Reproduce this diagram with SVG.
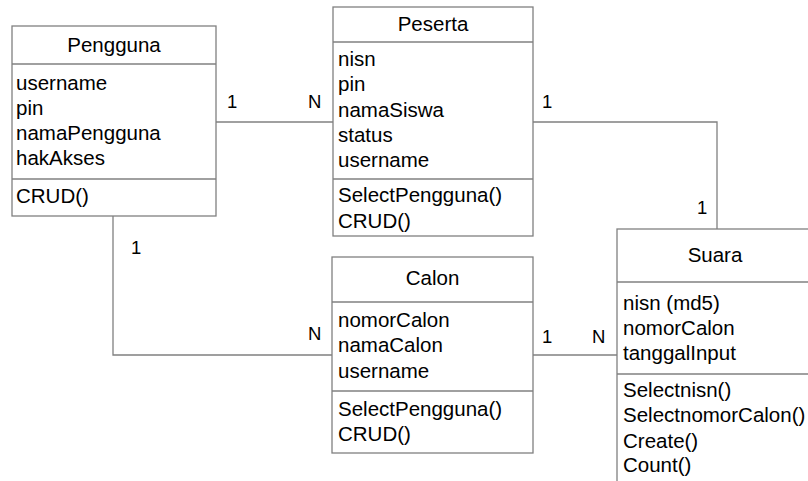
<svg xmlns="http://www.w3.org/2000/svg" width="808" height="481" viewBox="0 0 808 481">
<style>
.box{fill:#fff;stroke:#808080;stroke-width:1.3}
.sep{stroke:#808080;stroke-width:1.3}
.t{font-family:"Liberation Sans",Arial,sans-serif;font-size:20.5px;fill:#000}
.c{text-anchor:middle}
.lbl{font-family:"Liberation Sans",Arial,sans-serif;font-size:18.5px;fill:#000}
.conn{fill:none;stroke:#808080;stroke-width:1.3}
</style>
<rect width="808" height="481" fill="#fff"/>
<g id="connectors">
<path class="conn" d="M216,122 H333"/>
<path class="conn" d="M533,122 H717 V229"/>
<path class="conn" d="M113,216 V355 H332"/>
<path class="conn" d="M533,355 H617"/>
<text class="lbl" x="227" y="108">1</text>
<text class="lbl" x="308" y="108">N</text>
<text class="lbl" x="542" y="108">1</text>
<text class="lbl" x="697" y="214">1</text>
<text class="lbl" x="131" y="254">1</text>
<text class="lbl" x="308" y="340">N</text>
<text class="lbl" x="542" y="343">1</text>
<text class="lbl" x="592" y="343">N</text>
</g>
<g id="Pengguna">
<rect class="box" x="12" y="26" width="204" height="190"/>
<line class="sep" x1="12" y1="64" x2="216" y2="64"/>
<line class="sep" x1="12" y1="179" x2="216" y2="179"/>
<text class="t c" x="114" y="52">Pengguna</text>
<text class="t" x="16" y="90">username</text>
<text class="t" x="16" y="115">pin</text>
<text class="t" x="16" y="140">namaPengguna</text>
<text class="t" x="16" y="165">hakAkses</text>
<text class="t" x="16" y="203">CRUD()</text>
</g>
<g id="Peserta">
<rect class="box" x="333" y="7" width="200" height="229"/>
<line class="sep" x1="333" y1="42" x2="533" y2="42"/>
<line class="sep" x1="333" y1="179" x2="533" y2="179"/>
<text class="t c" x="433" y="31">Peserta</text>
<text class="t" x="338" y="66">nisn</text>
<text class="t" x="338" y="91">pin</text>
<text class="t" x="338" y="117">namaSiswa</text>
<text class="t" x="338" y="142">status</text>
<text class="t" x="338" y="167">username</text>
<text class="t" x="338" y="202">SelectPengguna()</text>
<text class="t" x="338" y="228">CRUD()</text>
</g>
<g id="Calon">
<rect class="box" x="332" y="257" width="201" height="196"/>
<line class="sep" x1="332" y1="302" x2="533" y2="302"/>
<line class="sep" x1="332" y1="391" x2="533" y2="391"/>
<text class="t c" x="432.5" y="285">Calon</text>
<text class="t" x="338" y="327">nomorCalon</text>
<text class="t" x="338" y="352">namaCalon</text>
<text class="t" x="338" y="378">username</text>
<text class="t" x="338" y="416">SelectPengguna()</text>
<text class="t" x="338" y="441">CRUD()</text>
</g>
<g id="Suara">
<rect class="box" x="617" y="229" width="196" height="270"/>
<line class="sep" x1="617" y1="282" x2="813" y2="282"/>
<line class="sep" x1="617" y1="374" x2="813" y2="374"/>
<text class="t c" x="715" y="262">Suara</text>
<text class="t" x="623" y="310">nisn (md5)</text>
<text class="t" x="623" y="335">nomorCalon</text>
<text class="t" x="623" y="360">tanggalInput</text>
<text class="t" x="623" y="397">Selectnisn()</text>
<text class="t" x="623" y="422">SelectnomorCalon()</text>
<text class="t" x="623" y="448">Create()</text>
<text class="t" x="623" y="472">Count()</text>
</g>
</svg>
